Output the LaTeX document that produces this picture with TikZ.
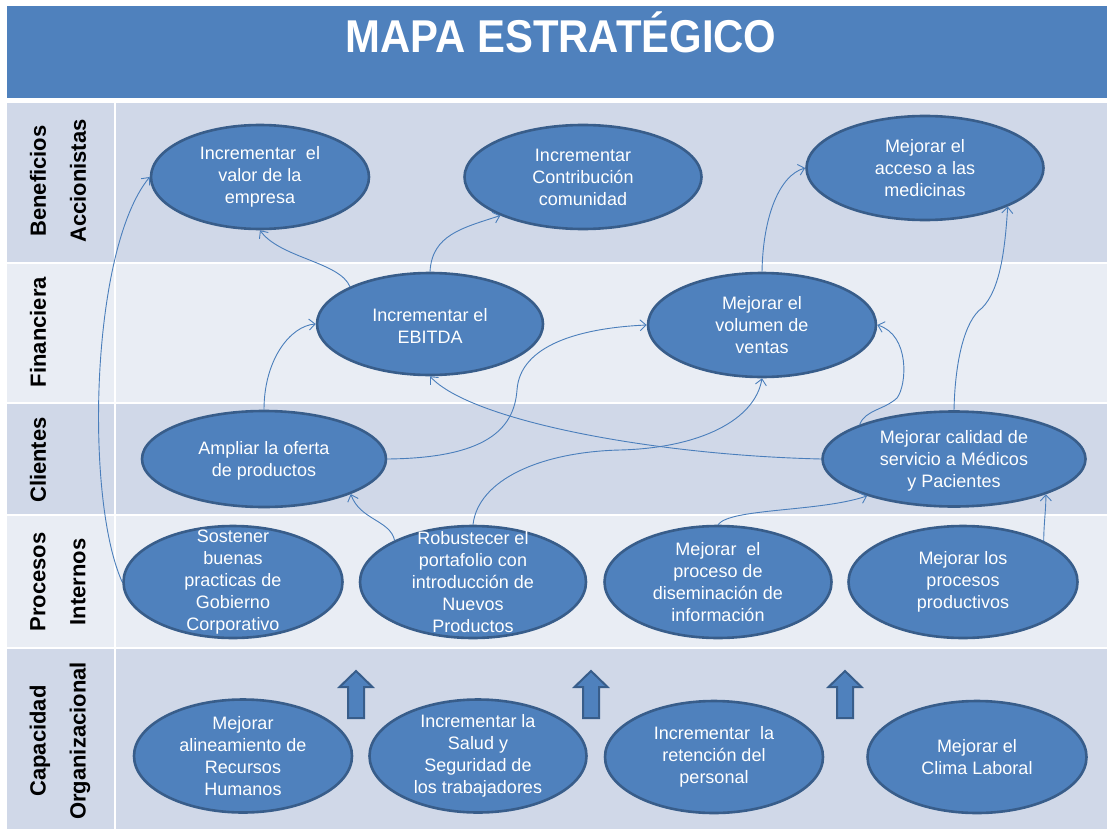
\documentclass[tikz,border=0pt]{standalone}
\usepackage{fontspec}
\setmainfont{Liberation Sans}
\usetikzlibrary{shapes.geometric,arrows.meta}

\definecolor{objazul}{HTML}{4F81BD}
\definecolor{objborde}{HTML}{385D8A}
\definecolor{lineazul}{HTML}{4A7EBB}
\definecolor{bandaosc}{HTML}{D0D8E8}
\definecolor{bandacla}{HTML}{E9EDF4}

\tikzset{
  obj/.style={ellipse, draw=objborde, line width=2.6pt, fill=objazul, inner sep=0pt},
  objtxt/.style={text=white, align=center, inner sep=0pt, font=\fontsize{18}{22}\selectfont},
  rowlbl/.style={rotate=90, align=center, inner sep=0pt, font=\fontsize{22}{40}\selectfont\bfseries},
  titulo/.style={text=white, inner sep=0pt, font=\fontsize{46}{50}\selectfont\bfseries},
  con/.style={draw=lineazul, line width=0.9pt, -{Straight Barb[length=6pt,width=11pt]}},
  flechaup/.style={fill=objazul, draw=objborde, line width=2pt}
}

\begin{document}
\begin{tikzpicture}[x=1pt, y=-1pt]
      \useasboundingbox (0,0) rectangle (1107,829);
      \fill[white] (0,0) rectangle (1107,829);
      % bandas
      \foreach \ya/\yb/\col in {103/263/bandaosc, 263/403/bandacla, 403/515/bandaosc, 515/648/bandacla, 648/829/bandaosc}
        \fill[\col] (7,\ya) rectangle (1107,\yb);
      \foreach \yy in {263,403,515,648}
        \draw[white, line width=2pt] (7,\yy) -- (1107,\yy);
      \draw[white, line width=2pt] (115,103) -- (115,829);
      % titulo
      \fill[objazul] (7,6) rectangle (1107,98);
      \node[titulo, anchor=base] (tit) at (561,53) {\scalebox{0.91}[1]{MAPA ESTRATÉGICO}};
      % perspectivas
      \node[rowlbl] (lbenef) at (58,181) {Beneficios\\Accionistas};
      \node[rowlbl] (lfin) at (38,332) {Financiera};
      \node[rowlbl] (lcli) at (38,460) {Clientes};
      \node[rowlbl] (lproc) at (58,582) {Procesos\\Internos};
      \node[rowlbl] (lcap) at (60,741) {Capacidad\\Organizacional};
      % objetivos
      \node[obj, minimum width=218, minimum height=104] (valor) at (260,177) {};
      \node[objtxt] (valor-t) at (valor) {Incrementar~ el\\valor de la\\empresa};
      \node[obj, minimum width=237, minimum height=104] (contrib) at (583,177) {};
      \node[objtxt] (contrib-t) at (contrib) {Incrementar\\Contribución\\comunidad};
      \node[obj, minimum width=237, minimum height=104] (acceso) at (925,168) {};
      \node[objtxt] (acceso-t) at (acceso) {Mejorar el\\acceso a las\\medicinas};
      \node[obj, minimum width=226, minimum height=102] (ebitda) at (430,324) {};
      \node[objtxt] (ebitda-t) at (430,326) {Incrementar el\\EBITDA};
      \node[obj, minimum width=228, minimum height=104] (vol) at (762,325) {};
      \node[objtxt] (vol-t) at (vol) {Mejorar el\\volumen de\\ventas};
      \node[obj, minimum width=244, minimum height=96] (amp) at (264,459) {};
      \node[objtxt] (amp-t) at (264,461) {Ampliar la oferta\\de productos};
      \node[obj, minimum width=263, minimum height=95] (cal) at (954,459) {};
      \node[objtxt] (cal-t) at (954,461) {Mejorar calidad de\\servicio a Médicos\\y Pacientes};
      \node[obj, minimum width=219, minimum height=112] (sost) at (233,582) {};
      \node[objtxt] (sost-t) at (sost) {Sostener\\buenas\\practicas de\\Gobierno\\Corporativo};
      \node[obj, minimum width=226, minimum height=112] (rob) at (473,582) {};
      \node[objtxt] (rob-t) at (rob) {Robustecer el\\portafolio con\\introducción de\\Nuevos\\Productos};
      \node[obj, minimum width=227, minimum height=112] (dis) at (718,582) {};
      \node[objtxt] (dis-t) at (dis) {Mejorar~ el\\proceso de\\diseminación de\\información};
      \node[obj, minimum width=229, minimum height=112] (prod) at (963,582) {};
      \node[objtxt] (prod-t) at (prod) {Mejorar los\\procesos\\productivos};
      \node[obj, minimum width=218, minimum height=113] (alin) at (243,756) {};
      \node[objtxt] (alin-t) at (alin) {Mejorar\\alineamiento de\\Recursos\\Humanos};
      \node[obj, minimum width=217, minimum height=113] (salud) at (478,756) {};
      \node[objtxt] (salud-t) at (salud) {Incrementar la\\Salud y\\Seguridad de\\los trabajadores};
      \node[obj, minimum width=218, minimum height=112] (ret) at (714,757) {};
      \node[objtxt] (ret-t) at (ret) {Incrementar~ la\\retención del\\personal};
      \node[obj, minimum width=219, minimum height=112] (clima) at (977,757) {};
      \node[objtxt] (clima-t) at (clima) {Mejorar el\\Clima Laboral};
      % flechas de bloque
      \foreach \ax in {356,591,845}
        \draw[flechaup] (\ax-8,718) -- (\ax-8,687) -- (\ax-16.5,687) -- (\ax,671)
          -- (\ax+16.5,687) -- (\ax+8,687) -- (\ax+8,718) -- cycle;
      % relaciones
      \draw[con] (sost.west) .. controls (85,500) and (90,250) .. (valor.west);
      \draw[con] (ebitda.155) .. controls (340,262) and (280,258) .. (valor.south);
      \draw[con] (ebitda.north) .. controls (432,235) and (462,228) .. (contrib.205);
      \draw[con] (amp.north) .. controls (264,360) and (290,326) .. (ebitda.west);
      \draw[con] (amp.east) .. controls (485,458) and (514,430) .. (517,390)
        .. controls (520,345) and (580,328) .. (vol.west);
      \draw[con] (rob.north) .. controls (478,480) and (540,452) .. (620,450)
        .. controls (700,448) and (755,420) .. (vol.south);
      \draw[con] (rob.152) .. controls (390,520) and (360,520) .. (amp.338);
      \draw[con] (cal.west) .. controls (650,455) and (470,420) .. (ebitda.south);
      \draw[con] (dis.north) .. controls (730,508) and (820,512) .. (cal.203);
      \draw[con] (cal.160) .. controls (865,410) and (884,410) .. (897,398)
        .. controls (907,385) and (910,335) .. (vol.east);
      \draw[con] (cal.north) .. controls (955,360) and (965,320) .. (982,308)
        .. controls (1000,290) and (1005,250) .. (acceso.335);
      \draw[con] (prod.27) .. controls (1044,520) and (1046,510) .. (cal.339);
      \draw[con] (vol.north) .. controls (763,215) and (780,175) .. (acceso.west);
\end{tikzpicture}
\end{document}
